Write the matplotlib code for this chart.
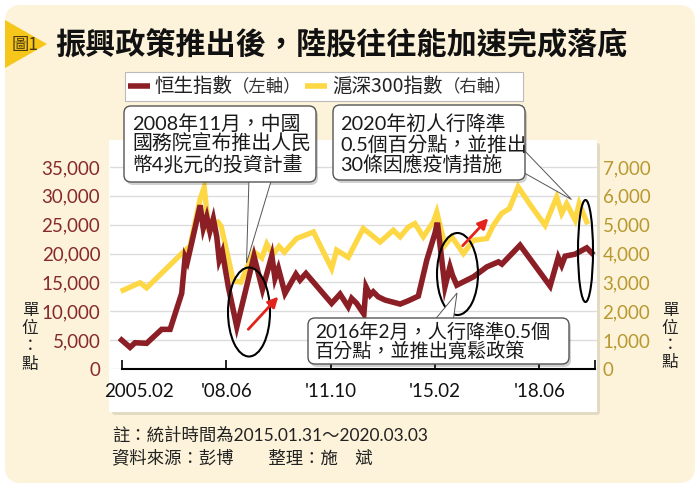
import matplotlib
matplotlib.use('Agg')
import matplotlib.pyplot as plt
from matplotlib.patches import FancyBboxPatch, Rectangle, Polygon, Ellipse, FancyArrowPatch
from matplotlib.lines import Line2D
import matplotlib.transforms as mtransforms

W, H = 700, 488
CJK = 'Noto Sans CJK TC'
plt.rcParams['font.family'] = ['Lato', CJK, 'DejaVu Sans']

# ---------------- data ----------------
hsi_dates = [2005.07, 2005.34, 2005.50, 2005.87, 2006.35, 2006.62, 2006.99, 2007.10, 2007.17,
             2007.28, 2007.58, 2007.68, 2007.79, 2007.89, 2008.00, 2008.11, 2008.19, 2008.29,
             2008.48, 2008.75, 2009.30, 2009.57, 2009.87, 2009.97, 2010.08, 2010.29, 2010.64,
             2010.77, 2010.96, 2011.78, 2012.05, 2012.31, 2012.42, 2012.58, 2012.81, 2012.88,
             2013.01, 2013.11, 2013.27, 2013.49, 2013.97, 2014.23, 2014.55, 2014.82, 2015.08,
             2015.16, 2015.40, 2015.56, 2015.64, 2015.78, 2016.31, 2016.74, 2017.11, 2017.22,
             2017.80, 2018.76, 2019.02, 2019.13, 2019.24, 2019.56, 2019.93, 2020.09]
hsi_values = [5020, 3750, 4550, 4450, 6870, 6870, 13100, 19380, 18560,
              21160, 28370, 24390, 26380, 23870, 26040, 22920, 18860, 20290,
              14240, 7320, 19550, 13790, 19640, 15690, 17420, 13100, 16440,
              15400, 16560, 11370, 12980, 10780, 12230, 11370, 9520, 14240,
              12800, 13370, 12510, 11940, 11250, 11820, 12630, 18860, 23480,
              25350, 14240, 17700, 16260, 14530, 15970, 17700, 18560, 18170,
              21450, 14360, 19320, 17990, 19550, 19900, 20990, 20120]

csi_dates = [2005.12, 2005.66, 2005.87, 2006.99, 2007.26, 2007.58, 2007.71, 2007.85, 2008.15,
             2008.25, 2008.64, 2008.88, 2009.30, 2009.55, 2009.71, 2009.90, 2010.10, 2010.27,
             2010.66, 2011.20, 2011.78, 2011.94, 2012.31, 2012.79, 2013.33, 2013.75, 2013.97,
             2014.23, 2014.44, 2014.71, 2015.03, 2015.14, 2015.40, 2015.62, 2015.99, 2016.31,
             2016.74, 2016.95, 2017.21, 2017.46, 2017.74, 2018.17, 2018.60, 2018.97, 2019.13,
             2019.29, 2019.56, 2019.69, 2019.93]
csi_values = [2730, 2990, 2810, 4000, 4260, 5900, 6300, 4880, 5090,
              4950, 3050, 3010, 4060, 3850, 4330, 3960, 4250, 4050,
              4520, 4750, 3480, 4120, 3870, 4870, 4400, 4810, 4580,
              4920, 5040, 4580, 5100, 5440, 4290, 4580, 4000, 4460,
              4520, 4980, 5390, 5560, 6310, 5620, 4980, 5960, 5390,
              5730, 5160, 5730, 5100]

x_ticks = [2005.083, 2008.417, 2011.75, 2015.083, 2018.417, 2020.2]
x_tick_labels = ['2005.02', "'08.06", "'11.10", "'15.02", "'18.06", '']
left_ticks = [0, 5000, 10000, 15000, 20000, 25000, 30000, 35000]
right_ticks = [0, 1000, 2000, 3000, 4000, 5000, 6000, 7000]

title = '振興政策推出後，陸股往往能加速完成落底'
hsi_name = '恒生指數'
csi_name = '滬深300指數'
note1 = '註：統計時間為2015.01.31～2020.03.03'
note2 = '資料來源：彭博　　整理：施　斌'
box1_lines = ['2008年11月，中國', '國務院宣布推出人民', '幣4兆元的投資計畫']
box2_lines = ['2020年初人行降準', '0.5個百分點，並推出', '30條因應疫情措施']
box3_lines = ['2016年2月，人行降準0.5個', '百分點，並推出寬鬆政策']

RED = '#8B1F25'
YEL = '#FDD744'
LCOL = '#86292B'
RCOL = '#B8982F'

fig = plt.figure(figsize=(7, 4.88), dpi=100, facecolor='white')
pix = mtransforms.Affine2D().scale(1, -1).translate(0, H)


def add(p, z):
    p.set_transform(pix)
    p.set_zorder(z)
    fig.add_artist(p)
    return p


def ftext(x, y, s, **kw):
    kw.setdefault('transform', pix)
    return fig.text(x, y, s, **kw)


# background panels
add(FancyBboxPatch((5, 5), 690, 478, boxstyle='round,pad=0,rounding_size=16',
                   fc='#FDF3DA', ec='none'), -10)
add(Polygon([(5, 20), (47, 44), (5, 68)], closed=True, fc='#F6C61B', ec='none'), -9)
ftext(25, 45, '圖1', family=[CJK], fontsize=12.5, color='#4A3A10', ha='center', va='center', zorder=5)
ftext(55, 44, title, family=[CJK], fontsize=21.7, fontweight='bold', color='#111111',
      ha='left', va='center', zorder=5)

# white chart panel with shadow
add(FancyBboxPatch((112, 143), 488, 272, boxstyle='round,pad=0,rounding_size=3',
                   fc='#000000', ec='none', alpha=0.10), -7)
add(Rectangle((109, 140), 488, 272, fc='white', ec='none'), -6)

# axes
ax = fig.add_axes([110 / W, 1 - 369 / H, 487 / W, 224 / H])
ax2 = ax.twinx()
ax.set_zorder(1)
ax2.set_zorder(0)
ax.patch.set_visible(False)
ax2.patch.set_visible(False)

x0 = 2005.083 - 12 / 31.3
x1 = 2005.083 + 475 / 31.3
ax.set_xlim(x0, x1)
ax.set_ylim(0, 38812)
ax2.set_ylim(0, 38812 / 5)

ax2.plot(csi_dates, csi_values, color=YEL, lw=3.8, solid_joinstyle='miter', zorder=3)
ax.plot(hsi_dates, hsi_values, color=RED, lw=4.0, solid_joinstyle='miter', zorder=3)

ax2.set_yticks(right_ticks)
ax2.set_yticklabels([f'{v:,}' for v in right_ticks])
ax2.grid(axis='y', color='#DCDCDC', lw=1.0)
ax2.set_axisbelow(True)
ax.set_yticks(left_ticks)
ax.set_yticklabels([f'{v:,}' for v in left_ticks])

for a in (ax, ax2):
    for s in a.spines.values():
        s.set_visible(False)
ax.spines['bottom'].set_visible(True)
ax.spines['bottom'].set_color('black')
ax.spines['bottom'].set_linewidth(1.5)
ax.spines['bottom'].set_bounds(2005.083, 2020.2)

ax.set_xticks(x_ticks)
ax.set_xticklabels(x_tick_labels)
ax.tick_params(axis='x', direction='in', length=6.5, width=1.2, color='black', pad=10,
               labelsize=13.5, labelcolor='#111111')
ax.tick_params(axis='y', length=0, pad=7, labelsize=13.5, labelcolor=LCOL)
ax2.tick_params(axis='y', length=0, pad=4, labelsize=13.5, labelcolor=RCOL)
ax2.tick_params(axis='x', length=0)
offset = mtransforms.ScaledTranslation(0.17, 0, fig.dpi_scale_trans)
lab0 = ax.get_xticklabels()[0]
lab0.set_transform(lab0.get_transform() + offset)

# unit labels (vertical)
for xc, ys in ((30, (310.5, 328.5, 346.5, 364.5)), (670, (310.5, 328, 345.5, 363))):
    for ch, yc in zip('單位：點', ys):
        ftext(xc, yc, ch, family=[CJK], fontsize=12, color='#222222', ha='center', va='center', zorder=5)

# legend (manual)
add(Rectangle((125, 72), 398, 29, fc='white', ec='#BBBBBB', lw=0.8), 2)
add(Line2D([128, 150], [86, 86], color=RED, lw=4, solid_capstyle='butt'), 3)
add(Line2D([305, 327], [86, 86], color=YEL, lw=4, solid_capstyle='butt'), 3)
fig.canvas.draw()
r = fig.canvas.get_renderer()
t = ftext(154, 86, hsi_name, family=[CJK], fontsize=14, color='#222222', ha='left', va='center', zorder=4)
bb = t.get_window_extent(r)
ftext(bb.x1, 86, '（左軸）', family=[CJK], fontsize=12.5, color='#333333', ha='left', va='center', zorder=4)
t = ftext(332, 86, csi_name, family=[CJK], fontsize=14, color='#222222', ha='left', va='center', zorder=4)
bb = t.get_window_extent(r)
ftext(bb.x1, 86, '（右軸）', family=[CJK], fontsize=12.5, color='#333333', ha='left', va='center', zorder=4)


def callout(x, y, w, h, lines, tx, tys, size, wedge):
    add(FancyBboxPatch((x + 2, y + 3), w, h, boxstyle='round,pad=0,rounding_size=7',
                       fc='#000000', ec='none', alpha=0.18), 6)
    add(Polygon(wedge, closed=True, fc='white', ec='#555555', lw=0.7), 7)
    add(FancyBboxPatch((x, y), w, h, boxstyle='round,pad=0,rounding_size=7',
                       fc='white', ec='#555555', lw=1.0), 8)
    for s, yy in zip(lines, tys):
        ftext(tx, yy, s, family=['Lato', CJK], fontsize=size, color='#1A1A1A',
              ha='left', va='center', zorder=9)


callout(124, 106, 192, 76, box1_lines, 132, (123, 143.5, 163.5), 14.3,
        [(249, 178), (272, 178), (246.5, 263)])
callout(333, 105, 192, 75, box2_lines, 340, (123.5, 144, 164), 14.3,
        [(520, 146), (519, 170), (571.5, 199.5)])
callout(308, 318, 261, 46, box3_lines, 315, (331.5, 350), 13.8,
        [(433, 322), (453, 322), (457, 293)])

# ellipses
for cx, cy, ew, eh in ((249, 312, 42, 89), (585.5, 251, 15, 102), (457.5, 274, 41, 82)):
    add(Ellipse((cx, cy), ew, eh, fc='none', ec='black', lw=1.5), 5)

# red arrows
for a_, b_ in (((248.3, 329.3), (278.3, 296.7)), ((462.7, 245.7), (488.3, 218.3))):
    add(FancyArrowPatch(a_, b_, arrowstyle='-|>', mutation_scale=15, lw=2,
                        color='#E3231B', shrinkA=0, shrinkB=0), 5)

# notes
ftext(112, 435, note1, family=['Lato', CJK], fontsize=12.5, color='#222222', ha='left', va='center', zorder=5)
ftext(112, 458, note2, family=[CJK], fontsize=12.5, color='#222222', ha='left', va='center', zorder=5)

fig.savefig('out.png', dpi=100, facecolor='white')
